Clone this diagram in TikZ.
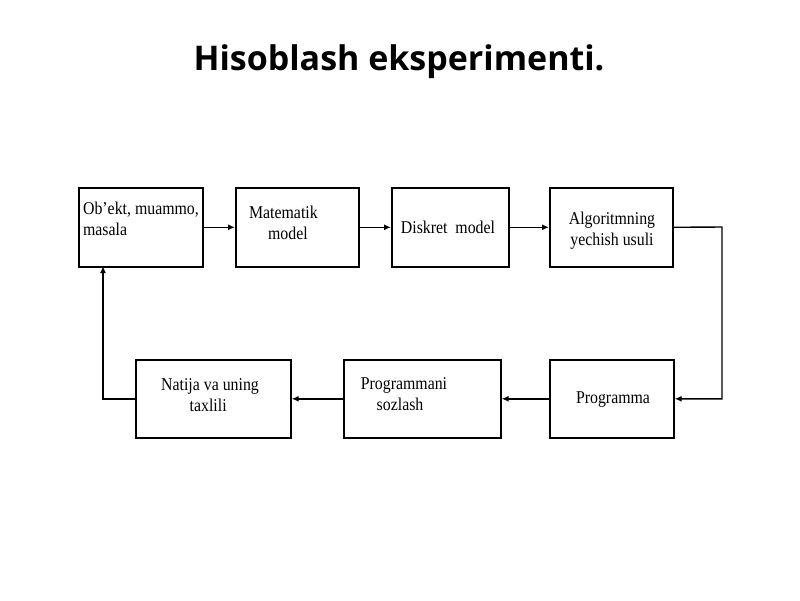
\documentclass[tikz,border=0pt]{standalone}
\usepackage{fontspec}
\setmainfont{Liberation Serif}
\newfontfamily\titlefont{Open Sans}
\usetikzlibrary{arrows.meta}
\begin{document}
\begin{tikzpicture}[x=1pt,y=-1pt,
 box/.style={draw=black,line width=1.6pt,fill=white,anchor=north west,inner sep=0pt},
 lbl/.style={font=\fontsize{18}{21}\selectfont,xscale=0.88,yscale=1},
 arr/.style={draw=black,line width=1.4pt,line join=miter,-{Latex[length=7pt,width=6pt]}}]
\useasboundingbox (0,0) rectangle (800,600);
\fill[white] (0,0) rectangle (800,600);
\node[font=\titlefont\bfseries\fontsize{34}{40}\selectfont] (title) at (399,62) {Hisoblash eksperimenti.};
\node[box,minimum width=124pt,minimum height=79pt] (b1) at (78,187) {};
\node[lbl,align=left,anchor=north west] (t1) at (80,198) {Ob'ekt, muammo,\\masala};
\node[box,minimum width=123pt,minimum height=79pt] (b2) at (235,187) {};
\node[lbl,align=left,anchor=north west] (t2) at (246,202) {Matematik\\\hspace*{1.2em}model};
\node[box,minimum width=117pt,minimum height=79pt] (b3) at (391,187) {};
\node[lbl] (t3) at (448,227) {Diskret\ \ model};
\node[box,minimum width=123pt,minimum height=79pt] (b4) at (549,187) {};
\node[lbl,align=center] (t4) at (612,231) {Algoritmning\\yechish usuli};
\node[box,minimum width=124pt,minimum height=78pt] (b5) at (549,359) {};
\node[lbl] (t5) at (613,400) {Programma};
\node[box,minimum width=157pt,minimum height=78pt] (b6) at (343,359) {};
\node[lbl,align=left] (t6) at (404,394) {Programmani\\\hspace*{1em}sozlash};
\node[box,minimum width=155pt,minimum height=78pt] (b7) at (135,359) {};
\node[lbl,align=left] (t7) at (210,395) {Natija va uning\\\hspace*{1.8em}taxlili};
\draw[arr] (b1.east) -- (b2.west);
\draw[arr] (b2.east) -- (b3.west);
\draw[arr] (b3.east) -- (b4.west);
\draw[arr] (b4.east) -- (722,227) |- (b5.east);
\draw[arr] (b5.west) -- (b6.east);
\draw[arr] (b6.west) -- (b7.east);
\draw[arr] (b7.west) -| (103,266);
\end{tikzpicture}
\end{document}
